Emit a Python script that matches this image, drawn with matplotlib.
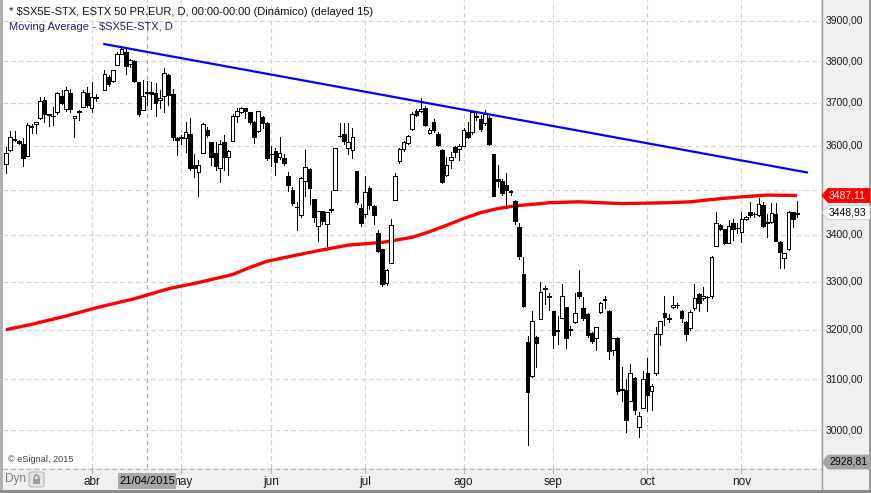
import matplotlib
matplotlib.use('Agg')
import matplotlib.pyplot as plt
import matplotlib.transforms as mtransforms
from matplotlib.patches import Polygon, Rectangle, FancyBboxPatch, Arc
from matplotlib.lines import Line2D
from matplotlib.ticker import NullLocator
import numpy as np
import pandas as pd

plt.rcParams['font.family'] = ['Liberation Sans', 'DejaVu Sans']

W, H = 871, 493

# daily bars 04/03/2015 .. 19/11/2015, Easter Friday/Monday not traded
dates = pd.bdate_range('2015-03-04', '2015-11-19')
dates = dates[~dates.isin(pd.to_datetime(['2015-04-03', '2015-04-06']))]

opens = [3559, 3591, 3615, 3610, 3605, 3577, 3646, 3651, 3665, 3708,
         3673, 3670, 3678, 3717, 3685, 3724, 3665, 3680, 3690, 3724,
         3689, 3713, 3731, 3763, 3753, 3792, 3818, 3822, 3794, 3800,
         3749, 3683, 3725, 3727, 3724, 3706, 3717, 3766, 3720, 3617,
         3617, 3617, 3628, 3555, 3540, 3583, 3637, 3609, 3583, 3549,
         3609, 3573, 3611, 3670, 3678, 3687, 3678, 3655, 3634, 3667,
         3652, 3581, 3588, 3573, 3571, 3531, 3499, 3462, 3443, 3520,
         3546, 3480, 3419, 3452, 3424, 3455, 3500, 3623, 3628, 3594,
         3591, 3543, 3459, 3447, 3504, 3464, 3404, 3370, 3297, 3340,
         3476, 3564, 3592, 3607, 3638, 3682, 3681, 3687, 3630, 3655,
         3628, 3590, 3534, 3568, 3598, 3592, 3600, 3631, 3631, 3668,
         3663, 3652, 3665, 3580, 3523, 3519, 3510, 3497, 3475, 3417,
         3317, 3174, 3107, 3186, 3221, 3287, 3270, 3238, 3199, 3225,
         3246, 3201, 3215, 3279, 3244, 3232, 3193, 3184, 3237, 3262,
         3238, 3159, 3184, 3080, 3078, 3057, 3103, 3007, 3044, 3112,
         3077, 3113, 3191, 3234, 3223, 3246, 3250, 3239, 3216, 3204,
         3244, 3274, 3265, 3268, 3270, 3376, 3422, 3412, 3383, 3426,
         3415, 3406, 3435, 3450, 3446, 3443, 3466, 3428, 3428, 3446,
         3384, 3350, 3370, 3450, 3447]
highs = [3598, 3633, 3633, 3614, 3617, 3652, 3650, 3656, 3714, 3715,
         3674, 3691, 3727, 3730, 3737, 3733, 3670, 3683, 3730, 3739,
         3751, 3720, 3778, 3766, 3780, 3823, 3837, 3833, 3805, 3802,
         3751, 3755, 3753, 3750, 3747, 3731, 3784, 3769, 3733, 3621,
         3624, 3655, 3665, 3582, 3568, 3652, 3644, 3609, 3609, 3613,
         3624, 3590, 3675, 3687, 3691, 3689, 3679, 3657, 3682, 3670,
         3655, 3600, 3594, 3621, 3582, 3540, 3505, 3473, 3528, 3590,
         3548, 3480, 3452, 3452, 3450, 3498, 3595, 3652, 3652, 3652,
         3642, 3543, 3468, 3530, 3508, 3466, 3410, 3370, 3327, 3434,
         3538, 3594, 3610, 3625, 3678, 3686, 3711, 3692, 3641, 3663,
         3631, 3592, 3575, 3585, 3600, 3603, 3640, 3655, 3680, 3681,
         3672, 3683, 3668, 3582, 3555, 3525, 3538, 3500, 3478, 3426,
         3352, 3188, 3238, 3188, 3300, 3291, 3277, 3238, 3229, 3296,
         3246, 3208, 3275, 3325, 3267, 3234, 3195, 3206, 3258, 3270,
         3240, 3184, 3186, 3124, 3100, 3130, 3105, 3035, 3117, 3142,
         3090, 3205, 3218, 3269, 3232, 3270, 3256, 3241, 3218, 3240,
         3295, 3276, 3288, 3270, 3354, 3451, 3424, 3414, 3432, 3434,
         3427, 3451, 3442, 3472, 3450, 3481, 3472, 3446, 3470, 3470,
         3386, 3362, 3452, 3451, 3474]
lows = [3538, 3588, 3610, 3604, 3554, 3577, 3629, 3629, 3663, 3656,
        3645, 3648, 3673, 3697, 3681, 3679, 3619, 3660, 3690, 3690,
        3678, 3705, 3731, 3741, 3751, 3790, 3818, 3768, 3785, 3750,
        3670, 3683, 3694, 3685, 3670, 3687, 3679, 3695, 3614, 3579,
        3605, 3586, 3545, 3528, 3487, 3583, 3620, 3555, 3545, 3517,
        3545, 3534, 3611, 3654, 3676, 3664, 3650, 3606, 3632, 3640,
        3567, 3554, 3534, 3570, 3555, 3496, 3466, 3410, 3440, 3487,
        3469, 3428, 3388, 3425, 3377, 3450, 3500, 3620, 3605, 3581,
        3572, 3468, 3419, 3440, 3458, 3423, 3363, 3291, 3293, 3340,
        3476, 3560, 3588, 3604, 3636, 3668, 3678, 3645, 3628, 3632,
        3600, 3515, 3530, 3548, 3575, 3568, 3600, 3618, 3628, 3660,
        3635, 3648, 3602, 3485, 3505, 3488, 3459, 3488, 3425, 3348,
        3246, 2973, 3105, 3125, 3221, 3253, 3240, 3162, 3170, 3225,
        3162, 3190, 3213, 3265, 3220, 3185, 3172, 3159, 3235, 3244,
        3141, 3149, 3071, 3058, 2997, 3057, 3032, 2988, 3044, 3038,
        3040, 3108, 3168, 3210, 3215, 3244, 3244, 3215, 3178, 3200,
        3240, 3239, 3262, 3239, 3265, 3376, 3410, 3381, 3382, 3390,
        3405, 3384, 3432, 3440, 3440, 3441, 3417, 3395, 3426, 3386,
        3329, 3329, 3368, 3418, 3440]
closes = [3584, 3619, 3613, 3607, 3571, 3648, 3643, 3656, 3705, 3674,
          3671, 3669, 3724, 3700, 3731, 3685, 3670, 3679, 3727, 3696,
          3715, 3712, 3770, 3745, 3780, 3818, 3830, 3788, 3802, 3753,
          3673, 3717, 3723, 3722, 3700, 3712, 3772, 3719, 3621, 3614,
          3619, 3632, 3549, 3550, 3556, 3650, 3625, 3575, 3554, 3603,
          3575, 3588, 3670, 3681, 3688, 3682, 3656, 3621, 3680, 3652,
          3571, 3580, 3563, 3584, 3560, 3510, 3470, 3461, 3526, 3551,
          3504, 3439, 3452, 3430, 3450, 3456, 3595, 3623, 3611, 3609,
          3621, 3473, 3426, 3495, 3465, 3444, 3366, 3296, 3325, 3421,
          3530, 3592, 3608, 3623, 3675, 3672, 3686, 3647, 3636, 3636,
          3602, 3517, 3555, 3575, 3585, 3600, 3636, 3621, 3678, 3666,
          3638, 3675, 3605, 3487, 3520, 3492, 3500, 3495, 3430, 3354,
          3248, 3075, 3217, 3172, 3279, 3285, 3268, 3190, 3197, 3269,
          3182, 3200, 3234, 3270, 3223, 3189, 3176, 3206, 3255, 3264,
          3157, 3184, 3077, 3079, 3020, 3113, 3040, 3028, 3100, 3069,
          3087, 3191, 3218, 3227, 3222, 3251, 3250, 3223, 3192, 3237,
          3265, 3256, 3270, 3268, 3352, 3426, 3414, 3383, 3419, 3414,
          3415, 3435, 3440, 3443, 3446, 3468, 3419, 3427, 3448, 3388,
          3363, 3361, 3450, 3434, 3449]

# moving average (bar number, value)
ma_bar = [0, 6, 14, 21, 29, 37, 44, 52, 56, 60, 64, 72, 79, 87, 94, 98,
          102, 106, 110, 114, 118, 124, 126, 133, 143, 154, 159, 166, 171,
          177, 184]
ma_val = [3200, 3211, 3228, 3245, 3264, 3285, 3298, 3315, 3330, 3343, 3351,
          3366, 3378, 3384, 3395, 3407, 3421, 3436, 3449, 3458, 3464, 3469,
          3471, 3473, 3469, 3471, 3473, 3480, 3484, 3488, 3487]

# hand drawn trend line
trend_bar = [22, 186.3]
trend_val = [3842, 3539]

month_labels = ['abr', 'may', 'jun', 'jul', 'ago', 'sep', 'oct', 'nov']
grid_prices = list(range(3000, 4000, 100))
last_ma = 3487.11
last_price = 3448.93
axis_min = 2928.81
axis_max = 3952
cursor_date = '2015-04-21'

opens = np.array(opens, float)
highs = np.array(highs, float)
lows = np.array(lows, float)
closes = np.array(closes, float)
n = len(dates)


def to_slot(i):
    # one empty slot is left after 02/04
    i = np.asarray(i, float)
    return i + (i >= 22)


slots = to_slot(np.arange(n))


def fx(px):
    return px / W


def fy(py):
    return 1 - py / H


def fmt(v):
    return f'{v:.2f}'.replace('.', ',')


fig = plt.figure(figsize=(W / 100, H / 100), dpi=100)
fig.patch.set_facecolor('#f0f0f0')

ax = fig.add_axes([fx(3), fy(468), fx(821) - fx(3), fy(0) - fy(468)])
ax.set_facecolor('white')
ax.set_yscale('log')
ax.set_ylim(axis_min, axis_max)
ax.set_xlim(-0.7, 190.6)
ax.xaxis.set_major_locator(NullLocator())
ax.yaxis.set_major_locator(NullLocator())
ax.yaxis.set_minor_locator(NullLocator())
for s in ax.spines.values():
    s.set_visible(False)

dash = (0, (4, 3))
for p in grid_prices:
    ax.axhline(p, color='#d0d0d0', lw=0.8, ls=dash, zorder=0)

month_first = [i for i in range(1, n) if dates[i].month != dates[i - 1].month]
for i in month_first:
    ax.axvline(slots[i], color='#d0d0d0', lw=0.8, ls=dash, zorder=0)
cur = int(np.where(dates == pd.Timestamp(cursor_date))[0][0])
ax.axvline(slots[cur], color='#a8a8a8', lw=0.8, ls=dash, zorder=0)

# moving average + trend line
ax.plot(to_slot(ma_bar), ma_val, color='#ff0000', lw=2.4, zorder=1,
        solid_capstyle='butt')
ax.plot(to_slot(trend_bar), trend_val, color='#0000ff', lw=1.6, zorder=4)

# candles
up = closes >= opens
ax.vlines(slots, lows, highs, colors='black', lw=0.55, zorder=2,
          antialiased=False)
bottoms = np.minimum(opens, closes)
heights = np.abs(closes - opens)
ax.bar(slots, heights, bottom=bottoms, width=0.85,
       color=np.where(up, 'white', 'black'), edgecolor='black',
       linewidth=0.55, zorder=3, antialiased=False)

# frame pieces
fig.add_artist(Line2D([fx(3), fx(821)], [fy(468.5)] * 2, color='#b4b4b4',
                      lw=0.8, ls=dash))
fig.add_artist(Line2D([fx(821.5)] * 2, [fy(0), fy(490)], color='#9a9a9a',
                      lw=1))
fig.add_artist(Rectangle((0, 0), fx(2.5), 1, color='#b0b0b0', lw=0))
fig.add_artist(Rectangle((fx(868.5), 0), fx(2.5), 1, color='#9a9a9a', lw=0))
fig.add_artist(Rectangle((0, 0), 1, fy(490), color='#8a8a8a', lw=0))

# header
fig.text(fx(9), fy(12), '* $SX5E-STX, ESTX 50 PR.EUR, D, 00:00-00:00 '
         '(Dinámico) (delayed 15)', fontsize=8, va='center', color='#101010')
fig.text(fx(9), fy(27), 'Moving Average - $SX5E-STX, D', fontsize=8,
         va='center', color='#20206e')
fig.text(fx(8), fy(459.5), '© eSignal, 2015', fontsize=6.6, va='center',
         color='#404040')

# price axis (the 3500 label sits under the moving average flag)
ytr = mtransforms.blended_transform_factory(fig.transFigure, ax.transData)
for p in grid_prices:
    if abs(p - last_ma) < 25:
        continue
    fig.text(fx(826), p, fmt(p), transform=ytr,
             fontsize=7.5, va='center', ha='left', color='#1a1a1a')


def flag(price, face, edge, tcolor, yc=None):
    if yc is None:
        yc = ax.transData.transform((0, price))[1]
    pts = [(822, yc), (828, yc + 7), (870, yc + 7), (870, yc - 7),
           (828, yc - 7)]
    pts = [(x / W, y / H) for x, y in pts]
    fig.add_artist(Polygon(pts, closed=True, fc=face, ec=edge, lw=0.6,
                           transform=fig.transFigure, zorder=5))
    fig.text(fx(829), yc / H, fmt(price), fontsize=7.5,
             va='center', ha='left', color=tcolor, zorder=6)


flag(last_ma, '#ff0000', '#ff0000', 'white')
flag(last_price, 'white', '#c8c8c8', 'black')
flag(axis_min, '#a4a4a4', '#a4a4a4', 'black', yc=H - 462)

# date band; the cursor date box covers the start of "may" as in eSignal
xtr = mtransforms.blended_transform_factory(ax.transData, fig.transFigure)
cx = ax.transData.transform((slots[cur], 0))[0] / W
for i, lab in zip(month_first, month_labels):
    fig.text(slots[i], fy(482), lab, transform=xtr, fontsize=8.5,
             ha='center', va='center', color='#1a1a1a')
    fig.add_artist(Line2D([slots[i]] * 2, [fy(468), fy(473)], transform=xtr,
                          color='#b4b4b4', lw=0.8))

fig.add_artist(Rectangle((cx - fx(29), fy(489)), fx(58), fy(473) - fy(489),
                         fc='#a8a8a8', ec='none', zorder=4))
fig.text(cx, fy(481), pd.Timestamp(cursor_date).strftime('%d/%m/%Y'),
         fontsize=8, ha='center', va='center', color='black', zorder=5)

fig.text(fx(5), fy(479), 'Dyn', fontsize=8.5, va='center', ha='left',
         color='#7a7a7a')
fig.add_artist(FancyBboxPatch((fx(29), fy(487)), fx(15), fy(472) - fy(487),
                              boxstyle='round,pad=0,rounding_size=0.004',
                              fc='#e4e4e4', ec='#b8b8b8', lw=0.8))
fig.add_artist(Rectangle((fx(33), fy(484)), fx(7), fy(479) - fy(484),
                         fc='#9a9a9a', ec='none', zorder=3))
fig.add_artist(Arc((fx(36.5), fy(479)), fx(5), fy(473) - fy(481), theta1=0,
                   theta2=180, color='#9a9a9a', lw=1.2, zorder=3))

fig.savefig('out.png', dpi=100, facecolor=fig.get_facecolor())
